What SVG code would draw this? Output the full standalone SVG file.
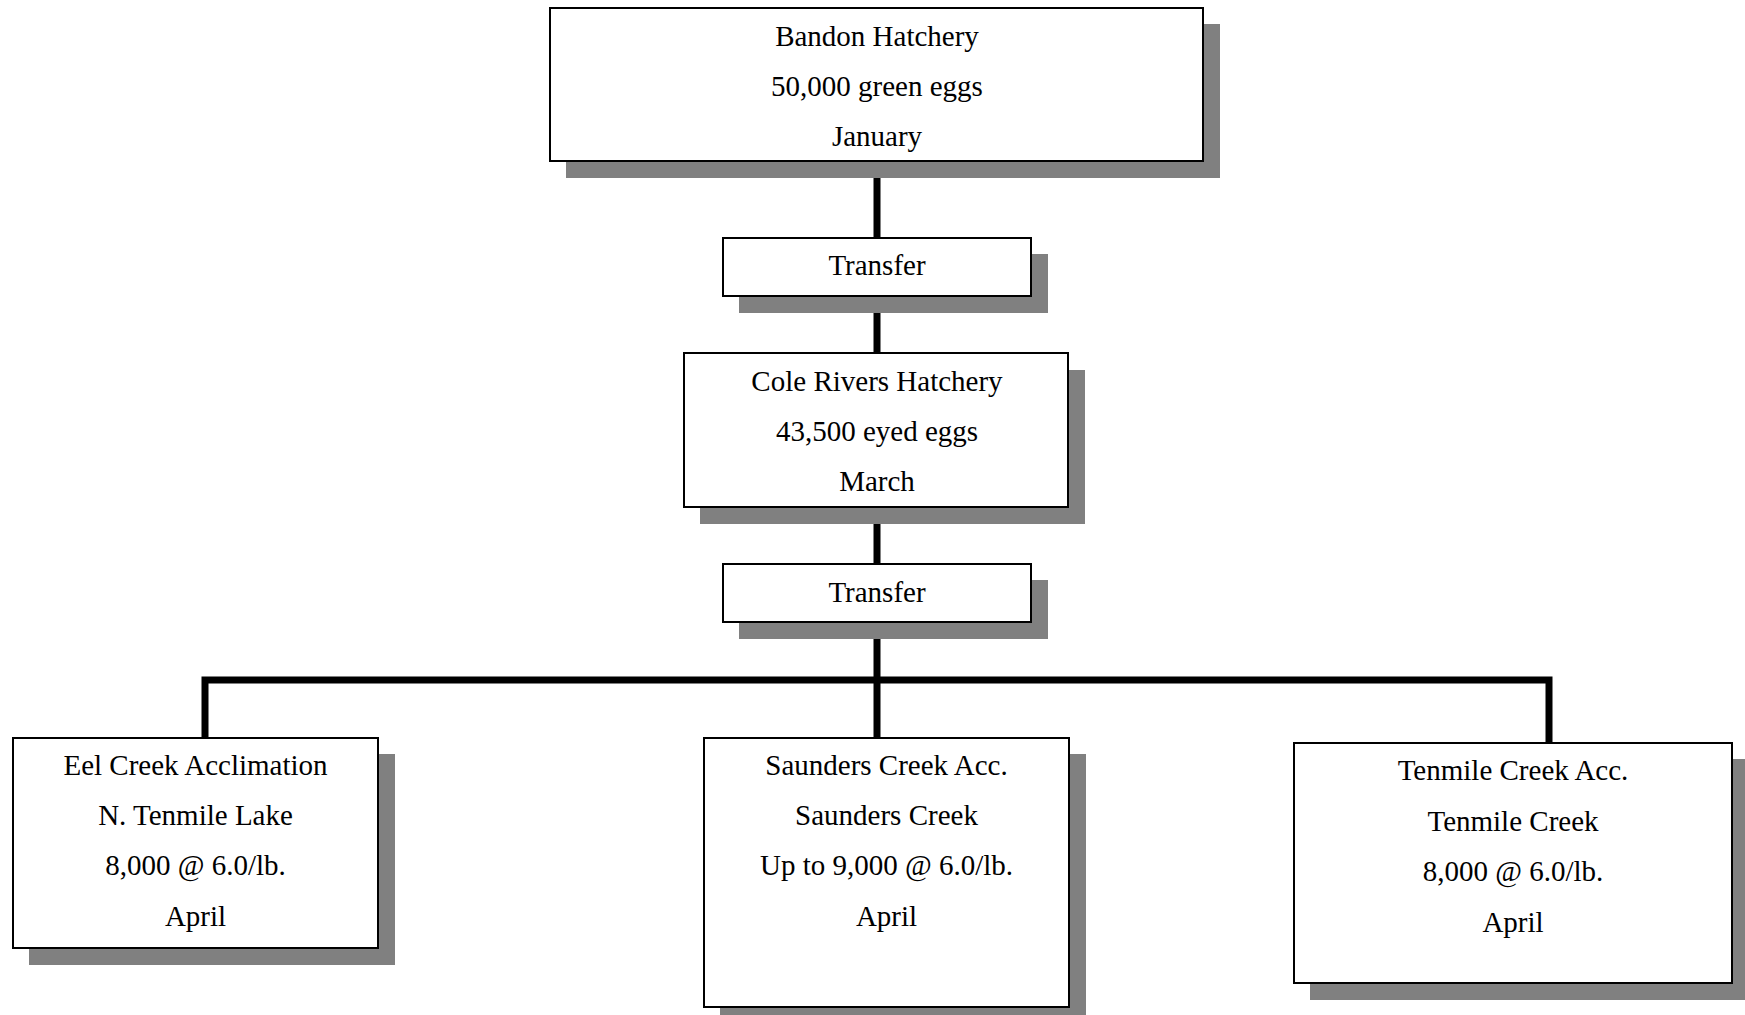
<svg xmlns="http://www.w3.org/2000/svg" width="1745" height="1015" viewBox="0 0 1745 1015">
<style>
.shadow{fill:#808080;stroke:none}
.box{fill:#ffffff;stroke:#000000;stroke-width:2}
.conn{stroke:#000000;stroke-width:7;fill:none;stroke-linecap:square}
text{font-family:"Liberation Serif","Times New Roman",serif;font-size:29px;fill:#000000;text-anchor:middle}
</style>
<rect width="1745" height="1015" fill="#ffffff"/>
<g id="connectors">
<line class="conn" x1="877" y1="161" x2="877" y2="238"/>
<line class="conn" x1="877" y1="296" x2="877" y2="353"/>
<line class="conn" x1="877" y1="507" x2="877" y2="564"/>
<line class="conn" x1="877" y1="622" x2="877" y2="738"/>
<polyline class="conn" points="205,738 205,680 1549,680 1549,743" stroke-linecap="butt" stroke-linejoin="miter"/>
</g>
<g id="bandon">
<rect class="shadow" x="566" y="24" width="654" height="154"/>
<rect class="box" x="550" y="8" width="653" height="153"/>
<text x="877" y="46">Bandon Hatchery</text>
<text x="877" y="96">50,000 green eggs</text>
<text x="877" y="146">January</text>
</g>
<g id="transfer1">
<rect class="shadow" x="739" y="254" width="309" height="59"/>
<rect class="box" x="723" y="238" width="308" height="58"/>
<text x="877" y="275">Transfer</text>
</g>
<g id="cole">
<rect class="shadow" x="700" y="370" width="385" height="154"/>
<rect class="box" x="684" y="353" width="384" height="154"/>
<text x="877" y="391">Cole Rivers Hatchery</text>
<text x="877" y="441">43,500 eyed eggs</text>
<text x="877" y="491">March</text>
</g>
<g id="transfer2">
<rect class="shadow" x="739" y="580" width="309" height="59"/>
<rect class="box" x="723" y="564" width="308" height="58"/>
<text x="877" y="602">Transfer</text>
</g>
<g id="eel">
<rect class="shadow" x="29" y="754" width="366" height="211"/>
<rect class="box" x="13" y="738" width="365" height="210"/>
<text x="195.5" y="775">Eel Creek Acclimation</text>
<text x="195.5" y="825">N. Tenmile Lake</text>
<text x="195.5" y="875">8,000 @ 6.0/lb.</text>
<text x="195.5" y="926">April</text>
</g>
<g id="saunders">
<rect class="shadow" x="720" y="754" width="366" height="270"/>
<rect class="box" x="704" y="738" width="365" height="269"/>
<text x="886.5" y="775">Saunders Creek Acc.</text>
<text x="886.5" y="825">Saunders Creek</text>
<text x="886.5" y="875">Up to 9,000 @ 6.0/lb.</text>
<text x="886.5" y="926">April</text>
</g>
<g id="tenmile">
<rect class="shadow" x="1310" y="759" width="438" height="241"/>
<rect class="box" x="1294" y="743" width="438" height="240"/>
<text x="1513" y="780">Tenmile Creek Acc.</text>
<text x="1513" y="831">Tenmile Creek</text>
<text x="1513" y="881">8,000 @ 6.0/lb.</text>
<text x="1513" y="932">April</text>
</g>
</svg>
